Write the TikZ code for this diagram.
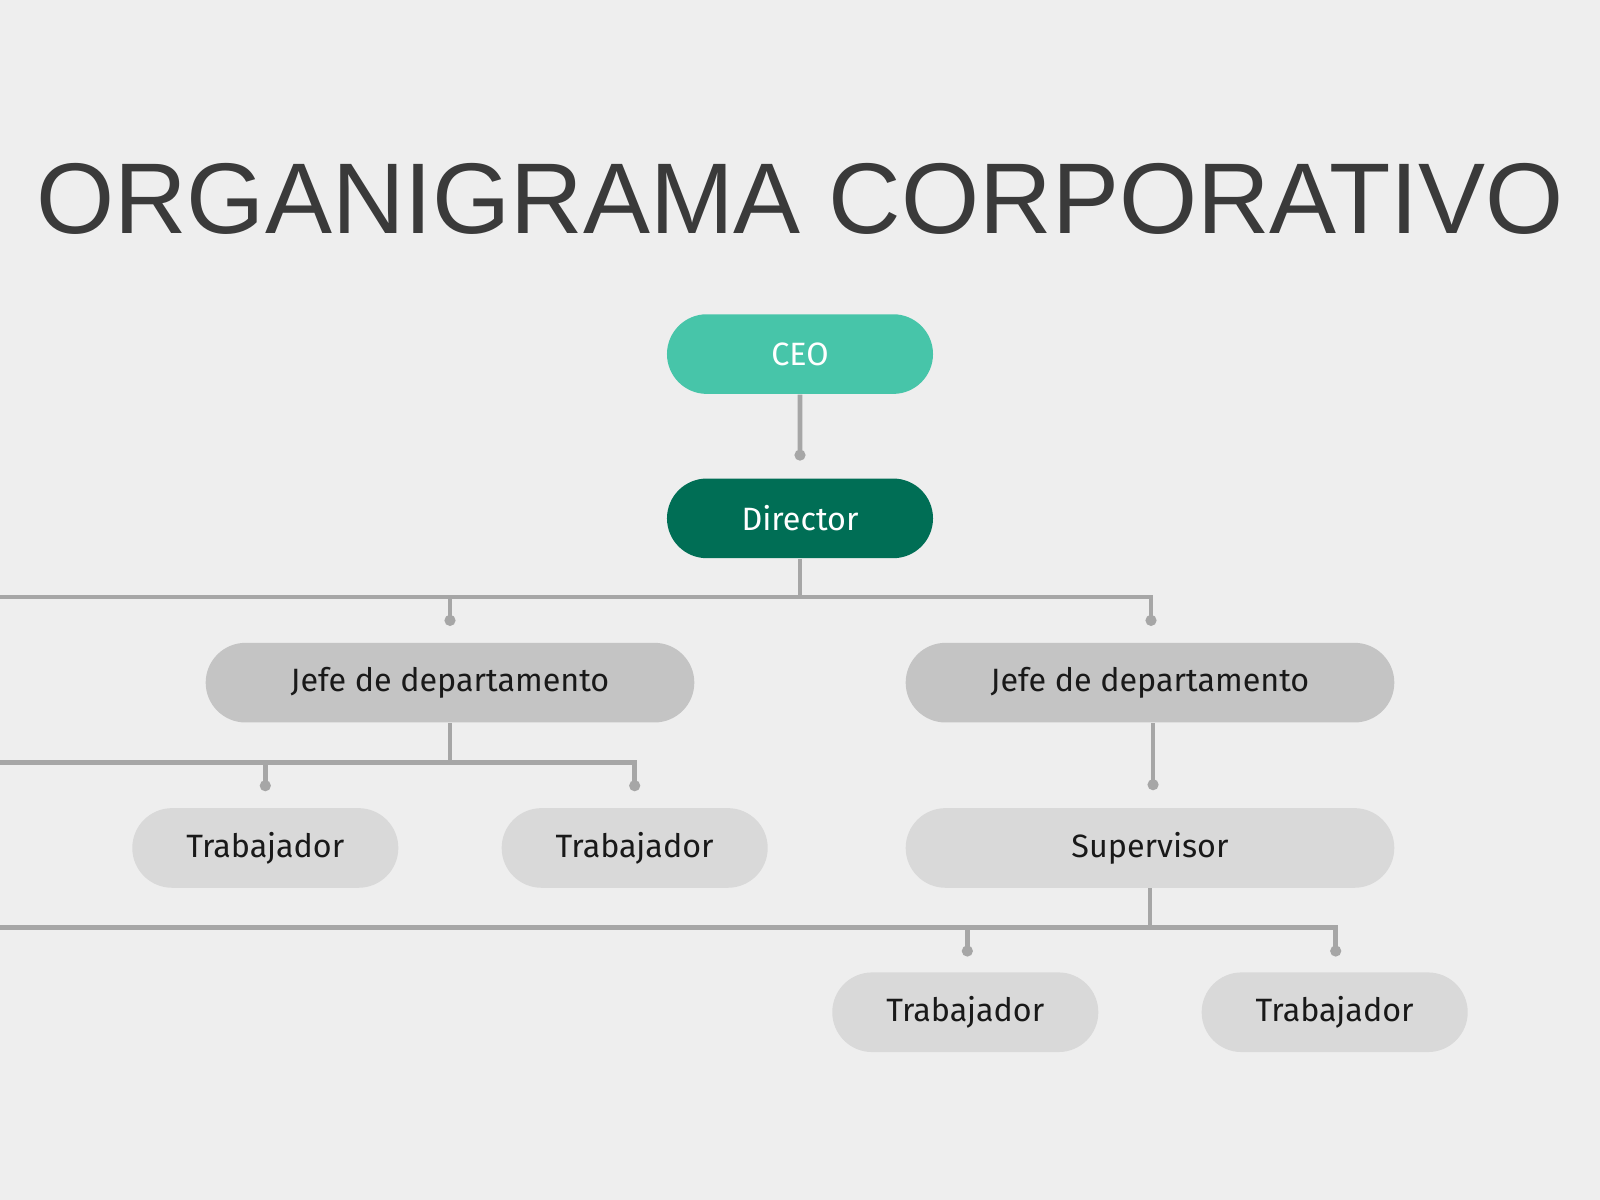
\documentclass[tikz,border=0pt]{standalone}
\usepackage{fontspec}
\usetikzlibrary{shapes.misc}
\setmainfont{Fira Sans}
\newfontfamily\titlefont{Liberation Sans}
\definecolor{fundo}{HTML}{EEEEEE}
\definecolor{verdeclaro}{HTML}{47C5A9}
\definecolor{verdeescuro}{HTML}{006E55}
\definecolor{cinzaA}{HTML}{C4C4C4}
\definecolor{cinzaB}{HTML}{D9D9D9}
\definecolor{linha}{HTML}{A6A6A6}
\definecolor{titulo}{HTML}{3A3A3A}

\begin{document}
\begin{tikzpicture}[x=0.01cm, y=-0.01cm]
                \tikzstyle{caixa}=[rounded rectangle, draw=none, minimum height=0.78cm, font=\fontsize{9}{11}\selectfont, text=black!90]
                \tikzstyle{curta}=[minimum width=2.84cm]
                \tikzstyle{longa}=[minimum width=5.02cm]
                \tikzstyle{liga}=[draw=linha, line width=1.3pt]
                \tikzstyle{ponto}=[fill=linha]

                \fill[fundo] (0,0) rectangle (1568,1176);
                \useasboundingbox (0,0) rectangle (1568,1176);

                \node[font=\titlefont\fontsize{28}{30}\selectfont, text=titulo] (tit) at (784,195) {ORGANIGRAMA CORPORATIVO};

                    % Nós
                    \node[caixa, curta, fill=verdeclaro, text=white] (ceo) at (784,347) {CEO};
                    \node[caixa, curta, fill=verdeescuro, text=white] (dir) at (784,508) {Director};
                    \node[caixa, longa, fill=cinzaA] (jefeA) at (441,669) {Jefe de departamento};
                    \node[caixa, longa, fill=cinzaA] (jefeB) at (1127,669) {Jefe de departamento};
                    \node[caixa, curta, fill=cinzaB] (trab1) at (260,831) {Trabajador};
                    \node[caixa, curta, fill=cinzaB] (trab2) at (622,831) {Trabajador};
                    \node[caixa, longa, fill=cinzaB] (sup) at (1127,831) {Supervisor};
                    \node[caixa, curta, fill=cinzaB] (trab3) at (946,992) {Trabajador};
                    \node[caixa, curta, fill=cinzaB] (trab4) at (1308,992) {Trabajador};

                    % Pontos
                    \coordinate (pdir) at (784,446);
                    \coordinate (pjA) at (441,608);
                    \coordinate (pjB) at (1128,608);
                    \coordinate (pt1) at (260,770);
                    \coordinate (pt2) at (622,770);
                    \coordinate (psup) at (1130,769);
                    \coordinate (pt3) at (948,932);
                    \coordinate (pt4) at (1309,932);

                    % Arestas
                    \draw[liga] (ceo) -- (pdir);
                    \draw[liga] (dir.south) |- (0,585) -| (pjA);
                    \draw[liga] (dir.south) |- (0,585) -| (pjB);
                    \draw[liga] (jefeA.south) |- (0,747) -| (pt1);
                    \draw[liga] (jefeA.south) |- (0,747) -| (pt2);
                    \draw[liga] (jefeB.south -| psup) -- (psup);
                    \draw[liga] (sup.south) |- (0,909) -| (pt3);
                    \draw[liga] (sup.south) |- (0,909) -| (pt4);

                    \foreach \p in {pdir,pjA,pjB,pt1,pt2,psup,pt3,pt4}
                        \fill[ponto] (\p) circle (5.5);
            \end{tikzpicture}
\end{document}
